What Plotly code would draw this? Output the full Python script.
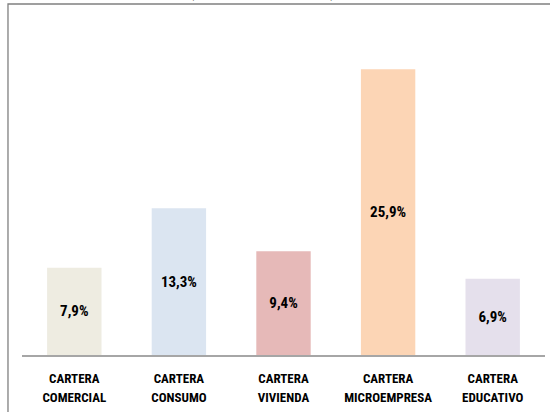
import plotly.graph_objects as go

categories = ["CARTERA COMERCIAL", "CARTERA CONSUMO", "CARTERA VIVIENDA",
              "CARTERA MICROEMPRESA", "CARTERA EDUCATIVO"]
tick_lines = [("CARTERA", "COMERCIAL"), ("CARTERA", "CONSUMO"), ("CARTERA", "VIVIENDA"),
              ("CARTERA", "MICROEMPRESA"), ("CARTERA", "EDUCATIVO")]
values = [7.9, 13.3, 9.4, 25.9, 6.9]
colors = ["#EEECE1", "#DBE5F1", "#E6B9B8", "#FCD5B5", "#E5E0EC"]

FONT = "Liberation Sans Narrow, Roboto Condensed, Arial Narrow, sans-serif"

fig = go.Figure(go.Bar(
    x=categories, y=values,
    marker=dict(color=colors, line=dict(width=0)),
    texttemplate="%{y:.1f}%",
    textposition="inside",
    insidetextanchor="middle",
    textfont=dict(family=FONT, size=15, color="black", weight="bold"),
    hoverinfo="skip",
))

# larger base font gives the wide line spacing, spans keep glyphs small
ticktext = ["<span style='font-size:13px'>%s<br>%s</span>" % t for t in tick_lines]

fig.update_layout(
    width=550, height=412,
    margin=dict(l=22, r=5, t=24, b=57),
    paper_bgcolor="white", plot_bgcolor="white",
    separators=", ",
    bargap=0.48,
    showlegend=False,
    font=dict(family=FONT, color="black"),
)
fig.update_xaxes(
    tickmode="array", tickvals=categories, ticktext=ticktext,
    tickfont=dict(family=FONT, size=15, color="black", weight="bold"),
    ticklabelstandoff=8,
    showline=True, linecolor="#A6A6A6", linewidth=1.5,
    ticks="", showgrid=False, fixedrange=True,
)
fig.update_yaxes(range=[0, 30], visible=False, fixedrange=True)

# outer chart frame (partly cropped in the reference)
fig.add_shape(type="rect", xref="paper", yref="paper",
              x0=-0.0268, x1=1.2, y0=-0.5, y1=1.0604,
              line=dict(color="#808080", width=1.3), fillcolor="rgba(0,0,0,0)")
# title, cut off at the top edge as in the source image
fig.add_annotation(text="(Comparativo a junio)", xref="paper", yref="paper",
                   x=0.459, y=1.064, yanchor="bottom", showarrow=False,
                   font=dict(family=FONT, size=17, color="black", weight="bold"))

fig.write_html("out.html", config={"displayModeBar": False},
               post_script="document.body.style.margin='0';")
